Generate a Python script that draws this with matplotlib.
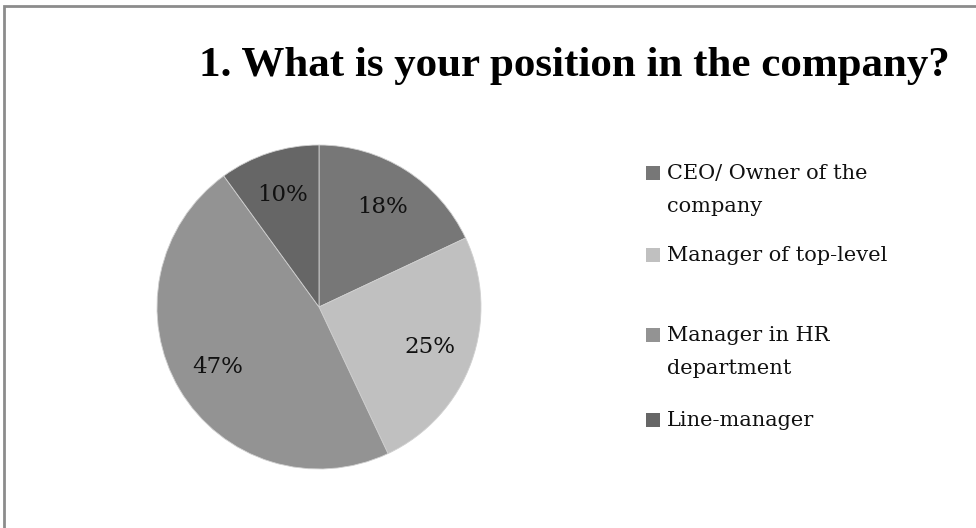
import matplotlib
matplotlib.use("Agg")
import matplotlib.pyplot as plt
from matplotlib.patches import Rectangle

# =============================================================================
# DATA
# =============================================================================

TITLE = "1. What is your position in the company?"
CATEGORIES = ["CEO/ Owner of the\ncompany", "Manager of top-level",
              "Manager in HR\ndepartment", "Line-manager"]
SHARES = [18, 25, 47, 10]
COLORS = ["#777777", "#c0c0c0", "#939393", "#666666"]

# =============================================================================
# FIGURE
# =============================================================================

W, H = 976, 528
fig = plt.figure(figsize=(W / 100, H / 100), dpi=100)
fig.patch.set_facecolor("white")

# chart frame (left and top edges visible)
fig.patches.append(Rectangle((4 / W, -0.1), 1.2, (H - 6) / H + 0.1,
                             transform=fig.transFigure, fill=False,
                             edgecolor="#8c8c8c", linewidth=2))

fig.text(574 / W, 1 - 66 / H, TITLE, ha="center", va="center",
         fontsize=31, fontweight="bold", family="Liberation Serif")

# pie
cx, cy, r = 319, H - 307, 162
ax = fig.add_axes([(cx - r) / W, (cy - r) / H, 2 * r / W, 2 * r / H])
wedges, texts, autotexts = ax.pie(
    SHARES, colors=COLORS, startangle=90, counterclock=False,
    autopct="%d%%", pctdistance=0.73,
    wedgeprops=dict(edgecolor="#d0d0d0", linewidth=0.6),
    textprops=dict(fontsize=16.5, family="DejaVu Serif", color="#111111"))
ax.set_xlim(-1, 1)
ax.set_ylim(-1, 1)
ax.set_aspect("equal")

# legend, laid out by hand to follow the uneven spacing
entry_y = [173, 255, 335, 420]
for label, color, y in zip(CATEGORIES, COLORS, entry_y):
    fig.patches.append(Rectangle((646 / W, 1 - (y + 7) / H), 14 / W, 14 / H,
                                 transform=fig.transFigure,
                                 facecolor=color, edgecolor="none"))
    fig.text(667 / W, 1 - (y - 9) / H, label, ha="left", va="top",
             fontsize=15, family="DejaVu Serif", color="#111111",
             linespacing=1.95)

fig.savefig("out.png", dpi=100)
